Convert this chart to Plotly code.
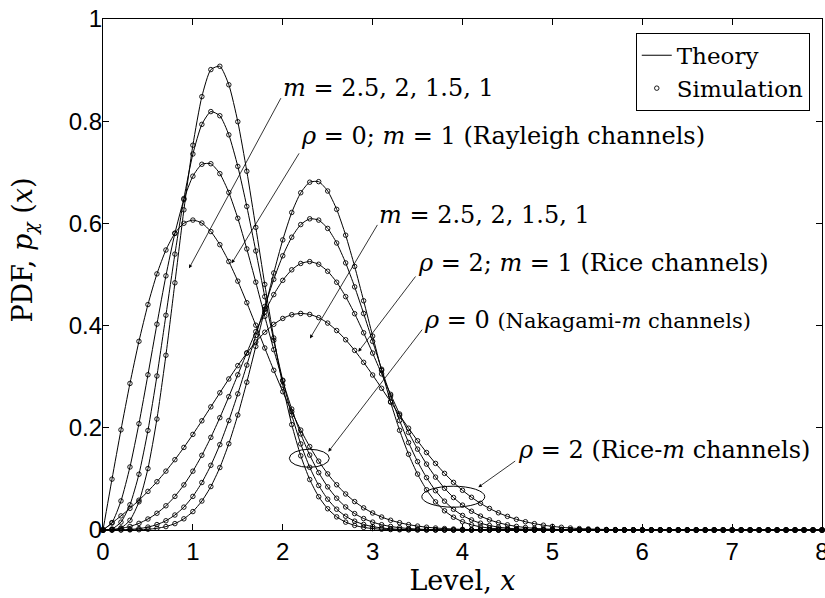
import plotly.graph_objects as go

# ---------------- data ----------------
level = [round(i * 0.1, 1) for i in range(81)]   # x samples 0, 0.1, ..., 8

# rho = 0 (Nakagami-m channels)
naka_m1 = [0.0, 0.0995, 0.1960, 0.2868, 0.3692, 0.4412, 0.5012, 0.5479, 0.5809, 0.6003,
           0.6065, 0.6007, 0.5841, 0.5584, 0.5254, 0.4870, 0.4449, 0.4008, 0.3562, 0.3125,
           0.2707, 0.2315, 0.1956, 0.1633, 0.1347, 0.1098, 0.0885, 0.0705, 0.0556, 0.0433,
           0.0333, 0.0254, 0.0191, 0.0143, 0.0105, 0.0077, 0.0055, 0.0039, 0.0028, 0.0019,
           0.0013, 0.0009, 0.0006, 0.0004, 0.0003, 0.0002, 0.0001, 0.0001, 0.0, 0.0,
           0.0, 0.0, 0.0, 0.0, 0.0, 0.0, 0.0, 0.0, 0.0, 0.0,
           0.0, 0.0, 0.0, 0.0, 0.0, 0.0, 0.0, 0.0, 0.0, 0.0,
           0.0, 0.0, 0.0, 0.0, 0.0, 0.0, 0.0, 0.0, 0.0, 0.0, 0.0]
naka_m15 = [0.0, 0.0146, 0.0569, 0.1233, 0.2080, 0.3038, 0.4028, 0.4974, 0.5805, 0.6467,
            0.6924, 0.7157, 0.7168, 0.6974, 0.6605, 0.6101, 0.5501, 0.4850, 0.4180, 0.3529,
            0.2919, 0.2367, 0.1881, 0.1467, 0.1123, 0.0844, 0.0622, 0.0451, 0.0321, 0.0224,
            0.0154, 0.0104, 0.0069, 0.0045, 0.0029, 0.0018, 0.0011, 0.0007, 0.0004, 0.0002,
            0.0001, 0.0, 0.0, 0.0, 0.0, 0.0, 0.0, 0.0, 0.0, 0.0,
            0.0, 0.0, 0.0, 0.0, 0.0, 0.0, 0.0, 0.0, 0.0, 0.0,
            0.0, 0.0, 0.0, 0.0, 0.0, 0.0, 0.0, 0.0, 0.0, 0.0,
            0.0, 0.0, 0.0, 0.0, 0.0, 0.0, 0.0, 0.0, 0.0, 0.0, 0.0]
naka_m2 = [0.0, 0.0020, 0.0154, 0.0494, 0.1091, 0.1947, 0.3014, 0.4203, 0.5399, 0.6487,
           0.7358, 0.7938, 0.8188, 0.8107, 0.7733, 0.7115, 0.6332, 0.5461, 0.4567, 0.3711,
           0.2931, 0.2252, 0.1685, 0.1227, 0.0871, 0.0603, 0.0407, 0.0269, 0.0173, 0.0109,
           0.0067, 0.0040, 0.0023, 0.0013, 0.0007, 0.0004, 0.0002, 0.0001, 0.0, 0.0,
           0.0, 0.0, 0.0, 0.0, 0.0, 0.0, 0.0, 0.0, 0.0, 0.0,
           0.0, 0.0, 0.0, 0.0, 0.0, 0.0, 0.0, 0.0, 0.0, 0.0,
           0.0, 0.0, 0.0, 0.0, 0.0, 0.0, 0.0, 0.0, 0.0, 0.0,
           0.0, 0.0, 0.0, 0.0, 0.0, 0.0, 0.0, 0.0, 0.0, 0.0, 0.0]
naka_m25 = [0.0, 0.0003, 0.0040, 0.0190, 0.0551, 0.1202, 0.2172, 0.3420, 0.4837, 0.6265,
            0.7530, 0.8481, 0.9010, 0.9075, 0.8713, 0.7990, 0.7021, 0.5923, 0.4806, 0.3758,
            0.2833, 0.2063, 0.1452, 0.0988, 0.0651, 0.0416, 0.0257, 0.0154, 0.0090, 0.0051,
            0.0028, 0.0015, 0.0008, 0.0004, 0.0002, 0.0001, 0.0, 0.0, 0.0, 0.0,
            0.0, 0.0, 0.0, 0.0, 0.0, 0.0, 0.0, 0.0, 0.0, 0.0,
            0.0, 0.0, 0.0, 0.0, 0.0, 0.0, 0.0, 0.0, 0.0, 0.0,
            0.0, 0.0, 0.0, 0.0, 0.0, 0.0, 0.0, 0.0, 0.0, 0.0,
            0.0, 0.0, 0.0, 0.0, 0.0, 0.0, 0.0, 0.0, 0.0, 0.0, 0.0]

# rho = 2 (Rice-m channels)
rice_m1 = [0.0, 0.0136, 0.0276, 0.0424, 0.0583, 0.0756, 0.0945, 0.1152, 0.1376, 0.1616,
           0.1871, 0.2137, 0.2410, 0.2685, 0.2956, 0.3217, 0.3460, 0.3680, 0.3870, 0.4025,
           0.4140, 0.4213, 0.4238, 0.4219, 0.4156, 0.4049, 0.3903, 0.3723, 0.3514, 0.3281,
           0.3033, 0.2773, 0.2510, 0.2247, 0.1992, 0.1747, 0.1516, 0.1303, 0.1108, 0.0932,
           0.0777, 0.0640, 0.0522, 0.0422, 0.0337, 0.0267, 0.0209, 0.0162, 0.0124, 0.0094,
           0.0071, 0.0053, 0.0039, 0.0028, 0.0021, 0.0015, 0.0010, 0.0007, 0.0005, 0.0004,
           0.0002, 0.0, 0.0, 0.0, 0.0, 0.0, 0.0, 0.0, 0.0, 0.0,
           0.0, 0.0, 0.0, 0.0, 0.0, 0.0, 0.0, 0.0, 0.0, 0.0, 0.0]
rice_m15 = [0.0, 0.0007, 0.0030, 0.0070, 0.0130, 0.0215, 0.0328, 0.0474, 0.0658, 0.0883,
            0.1151, 0.1462, 0.1813, 0.2198, 0.2610, 0.3038, 0.3467, 0.3882, 0.4267, 0.4607,
            0.4886, 0.5092, 0.5216, 0.5252, 0.5200, 0.5063, 0.4849, 0.4567, 0.4233, 0.3859,
            0.3462, 0.3056, 0.2655, 0.2270, 0.1910, 0.1582, 0.1289, 0.1035, 0.0817, 0.0635,
            0.0487, 0.0367, 0.0272, 0.0199, 0.0143, 0.0101, 0.0071, 0.0049, 0.0033, 0.0022,
            0.0014, 0.0009, 0.0006, 0.0004, 0.0002, 0.0001, 0.0, 0.0, 0.0, 0.0,
            0.0, 0.0, 0.0, 0.0, 0.0, 0.0, 0.0, 0.0, 0.0, 0.0,
            0.0, 0.0, 0.0, 0.0, 0.0, 0.0, 0.0, 0.0, 0.0, 0.0, 0.0]
rice_m2 = [0.0, 0.0, 0.0003, 0.0011, 0.0027, 0.0057, 0.0106, 0.0181, 0.0293, 0.0448,
           0.0658, 0.0929, 0.1266, 0.1671, 0.2141, 0.2665, 0.3227, 0.3806, 0.4375, 0.4905,
           0.5366, 0.5730, 0.5977, 0.6090, 0.6064, 0.5902, 0.5617, 0.5227, 0.4758, 0.4237,
           0.3691, 0.3146, 0.2624, 0.2142, 0.1712, 0.1339, 0.1025, 0.0769, 0.0564, 0.0405,
           0.0285, 0.0197, 0.0133, 0.0088, 0.0057, 0.0036, 0.0022, 0.0014, 0.0008, 0.0005,
           0.0003, 0.0002, 0.0001, 0.0, 0.0, 0.0, 0.0, 0.0, 0.0, 0.0,
           0.0, 0.0, 0.0, 0.0, 0.0, 0.0, 0.0, 0.0, 0.0, 0.0,
           0.0, 0.0, 0.0, 0.0, 0.0, 0.0, 0.0, 0.0, 0.0, 0.0, 0.0]
rice_m25 = [0.0, 0.0, 0.0, 0.0002, 0.0005, 0.0014, 0.0033, 0.0067, 0.0125, 0.0219,
            0.0361, 0.0567, 0.0850, 0.1222, 0.1689, 0.2250, 0.2892, 0.3593, 0.4320, 0.5030,
            0.5677, 0.6214, 0.6600, 0.6806, 0.6817, 0.6634, 0.6275, 0.5769, 0.5158, 0.4486,
            0.3795, 0.3124, 0.2503, 0.1951, 0.1481, 0.1094, 0.0787, 0.0551, 0.0376, 0.0250,
            0.0162, 0.0102, 0.0062, 0.0037, 0.0022, 0.0012, 0.0007, 0.0004, 0.0002, 0.0001,
            0.0, 0.0, 0.0, 0.0, 0.0, 0.0, 0.0, 0.0, 0.0, 0.0,
            0.0, 0.0, 0.0, 0.0, 0.0, 0.0, 0.0, 0.0, 0.0, 0.0,
            0.0, 0.0, 0.0, 0.0, 0.0, 0.0, 0.0, 0.0, 0.0, 0.0, 0.0]

series = [naka_m1, naka_m15, naka_m2, naka_m25, rice_m1, rice_m15, rice_m2, rice_m25]

# ---------------- figure ----------------
fig = go.Figure()
for i, ys in enumerate(series):
    fig.add_trace(go.Scatter(x=level, y=ys, mode="lines", name="Theory",
                             legendgroup="theory", showlegend=(i == 0),
                             line=dict(color="black", width=1, shape="spline", smoothing=0.6)))
for i, ys in enumerate(series):
    fig.add_trace(go.Scatter(x=level, y=ys, mode="markers", name="Simulation",
                             legendgroup="sim", showlegend=(i == 0), cliponaxis=False,
                             marker=dict(symbol="circle-open", size=4.5, color="black",
                                         line=dict(width=0.9, color="black"))))

SERIF = "DejaVu Serif"
txt = dict(family=SERIF, size=24, color="black")

labels = [
    (1.98, 0.865, "<i>m</i> = 2.5, 2, 1.5, 1", txt),
    (2.18, 0.771, "<i>ρ</i> = 0; <i>m</i> = 1 (Rayleigh channels)", txt),
    (3.05, 0.616, "<i>m</i> = 2.5, 2, 1.5, 1", txt),
    (3.48, 0.522, "<i>ρ</i> = 2; <i>m</i> = 1 (Rice channels)", txt),
    (3.55, 0.411, "<i>ρ</i> = 0 <span style='font-size:21px'>(Nakagami-<i>m</i> channels)</span>", txt),
    (4.59, 0.157, "<i>ρ</i> = 2 (Rice-<i>m</i> channels)", txt),
]
annotations = []
for x, y, t, f in labels:
    annotations.append(dict(x=x, y=y, xref="x", yref="y", text=t, showarrow=False,
                            xanchor="left", yanchor="middle", font=f))

# y-axis title placed like the reference (slightly above the axis centre)
annotations.append(dict(x=-0.109, y=0.548, xref="paper", yref="paper",
                        text="PDF, <i>p</i><sub><i>χ</i></sub> (<i>x</i>)", textangle=-90,
                        showarrow=False, xanchor="center", yanchor="middle",
                        font=dict(family=SERIF, size=27, color="black")))

# arrows: (tail x, tail y) -> (head x, head y)
arrows = [
    (1.988, 0.848, 0.957, 0.512),
    (2.192, 0.740, 1.432, 0.522),
    (3.063, 0.600, 2.303, 0.375),
    (3.490, 0.499, 2.841, 0.349),
    (3.564, 0.395, 2.507, 0.153),
    (4.603, 0.137, 4.176, 0.0836),
]
for ax, ay, hx, hy in arrows:
    annotations.append(dict(x=hx, y=hy, ax=ax, ay=ay, xref="x", yref="y",
                            axref="x", ayref="y", text="", showarrow=True,
                            arrowhead=2, arrowsize=0.9, arrowwidth=0.8,
                            arrowcolor="black", standoff=0, startstandoff=0))

shapes = [
    dict(type="circle", xref="x", yref="y", x0=2.073, x1=2.518, y0=0.1227, y1=0.158,
         line=dict(color="black", width=1)),
    dict(type="circle", xref="x", yref="y", x0=3.547, x1=4.248, y0=0.0446, y1=0.0857,
         line=dict(color="black", width=1)),
]

axis_common = dict(showline=True, linecolor="black", linewidth=1.3, mirror="allticks",
                   ticks="inside", ticklen=6, tickwidth=1, tickcolor="black",
                   showgrid=False, zeroline=False, ticklabeloverflow="allow",
                   automargin=False,
                   tickfont=dict(family="Liberation Sans", size=24, color="black"))

fig.update_layout(
    width=825, height=598,
    margin=dict(l=103, r=3, t=19, b=68, autoexpand=False),
    paper_bgcolor="white", plot_bgcolor="white",
    xaxis=dict(range=[0, 8], tick0=0, dtick=1,
               title=dict(text="Level, <i>x</i>", font=dict(family=SERIF, size=27, color="black"),
                          standoff=4),
               **axis_common),
    yaxis=dict(range=[0, 1], tick0=0, dtick=0.2, ticklabelstandoff=-5,
               **axis_common),
    legend=dict(x=0.983, y=0.973, xanchor="right", yanchor="top",
                bordercolor="black", borderwidth=1, bgcolor="white",
                font=dict(family=SERIF, size=23, color="black"),
                itemwidth=30, tracegroupgap=0),
    annotations=annotations,
    shapes=shapes,
    showlegend=True,
)

fig.write_html("out.html")
